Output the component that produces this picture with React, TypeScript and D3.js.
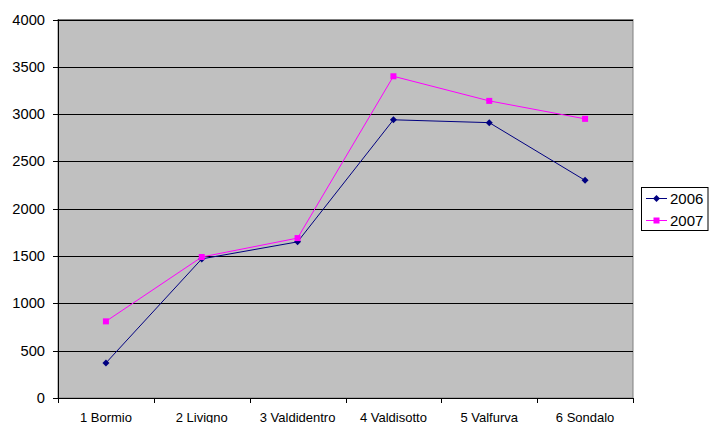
import React from "react";
import * as d3 from "d3";

const categories = ["1 Bormio", "2 Livigno", "3 Valdidentro", "4 Valdisotto", "5 Valfurva", "6 Sondalo"];
const series2006 = [370, 1470, 1650, 2940, 2910, 2300];
const series2007 = [810, 1490, 1690, 3400, 3140, 2950];
const yTicks = [0, 500, 1000, 1500, 2000, 2500, 3000, 3500, 4000];

const W = 709, H = 423;
const left = 58, right = 633, top = 19.5, bottom = 398;

export default function App() {
  const x = d3.scaleBand<string>().domain(categories).range([left, right]);
  const y = d3.scaleLinear().domain([0, 4000]).range([bottom, top]);
  const cx = (c: string) => (x(c) as number) + x.bandwidth() / 2;
  const line = d3.line<number>().x((_, i) => cx(categories[i])).y((d) => y(d));
  const font = "'Liberation Sans', Arial, sans-serif";
  const ticksX = categories.map((c) => x(c) as number).concat([right]);
  return (
    <svg width={W} height={H} style={{ position: "absolute", left: 0, top: 0 }}>
      <rect x={0} y={0} width={W} height={H} fill="#fff" />
      <rect x={left} y={top} width={right - left} height={bottom - top} fill="#C0C0C0" stroke="#808080" strokeWidth={1} />
      {yTicks.map((t) => (
        <g key={t}>
          {t > 0 && <line x1={left} x2={right} y1={Math.round(y(t)) + 0.5} y2={Math.round(y(t)) + 0.5} stroke="#000" strokeWidth={1} />}
          <line x1={left - 5} x2={left} y1={Math.round(y(t)) + 0.5} y2={Math.round(y(t)) + 0.5} stroke="#000" />
          <text x={45} y={y(t) + 5} textAnchor="end" fontFamily={font} fontSize={14.7} fill="#000">{t}</text>
        </g>
      ))}
      <line x1={left + 0.5} x2={left + 0.5} y1={top} y2={bottom} stroke="#000" />
      <line x1={left} x2={right} y1={bottom + 0.5} y2={bottom + 0.5} stroke="#000" />
      {ticksX.map((tx, i) => (
        <line key={i} x1={Math.round(tx) + 0.5} x2={Math.round(tx) + 0.5} y1={bottom} y2={bottom + 5} stroke="#000" />
      ))}
      {categories.map((c) => (
        <text key={c} x={cx(c)} y={422} textAnchor="middle" fontFamily={font} fontSize={13} fill="#000">{c}</text>
      ))}
      <path d={line(series2006) || ""} fill="none" stroke="#000080" strokeWidth={1} />
      <path d={line(series2007) || ""} fill="none" stroke="#FF00FF" strokeWidth={1} />
      {series2006.map((v, i) => {
        const px = cx(categories[i]), py = y(v);
        return <path key={"a" + i} d={`M${px},${py - 3.5}L${px + 3.5},${py}L${px},${py + 3.5}L${px - 3.5},${py}Z`} fill="#000080" />;
      })}
      {series2007.map((v, i) => {
        const px = cx(categories[i]), py = y(v);
        return <rect key={"b" + i} x={px - 3} y={py - 3} width={6} height={6} fill="#FF00FF" />;
      })}
      <g>
        <rect x={641.5} y={187.5} width={66.5} height={43} fill="#fff" stroke="#000" />
        <line x1={646} x2={667} y1={198.5} y2={198.5} stroke="#000080" />
        <path d={`M656.5,195L660,198.5L656.5,202L653,198.5Z`} fill="#000080" />
        <text x={670} y={204} fontFamily={font} fontSize={15} fill="#000">2006</text>
        <line x1={646} x2={667} y1={220.5} y2={220.5} stroke="#FF00FF" />
        <rect x={653.5} y={217.5} width={6} height={6} fill="#FF00FF" />
        <text x={670} y={226} fontFamily={font} fontSize={15} fill="#000">2007</text>
      </g>
    </svg>
  );
}
